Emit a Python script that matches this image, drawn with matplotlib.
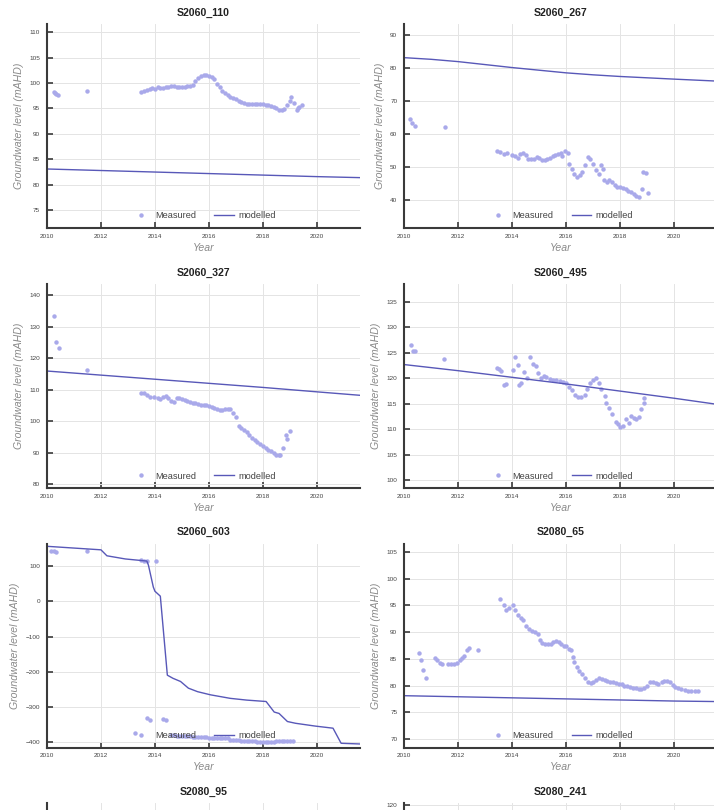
import numpy as np
import matplotlib
matplotlib.use("Agg")
import matplotlib.pyplot as plt

plt.rcParams["font.family"] = ["Liberation Sans", "DejaVu Sans"]

# ---- S2060_110 ----
s110_meas_year = [2010.25, 2010.3, 2010.35, 2010.4, 2011.5,
                  2013.5, 2013.6, 2013.7, 2013.8, 2013.9, 2014.0, 2014.1, 2014.2, 2014.3, 2014.4,
                  2014.5, 2014.6, 2014.7, 2014.8, 2014.9, 2015.0, 2015.1, 2015.2, 2015.3, 2015.4,
                  2015.5, 2015.6, 2015.7, 2015.8, 2015.9, 2016.0, 2016.1, 2016.2, 2016.3, 2016.4,
                  2016.5, 2016.6, 2016.7, 2016.8, 2016.9, 2017.0, 2017.1, 2017.2, 2017.3, 2017.4,
                  2017.5, 2017.6, 2017.7, 2017.8, 2017.9, 2018.0, 2018.1, 2018.2, 2018.3, 2018.4,
                  2018.5, 2018.6, 2018.7, 2018.8, 2018.9, 2019.0, 2019.05, 2019.15, 2019.25, 2019.3,
                  2019.35, 2019.45]
s110_meas_level = [98.3, 98.0, 97.8, 97.6, 98.4,
                   98.3, 98.5, 98.6, 98.8, 99.0, 98.8, 99.2, 99.1, 99.0, 99.2,
                   99.3, 99.5, 99.4, 99.2, 99.3, 99.3, 99.2, 99.4, 99.5, 99.7,
                   100.3, 100.9, 101.4, 101.6, 101.6, 101.4, 101.2, 100.8, 99.9, 99.2,
                   98.5, 98.0, 97.6, 97.3, 97.0, 96.8, 96.5, 96.2, 96.0, 95.8,
                   95.8, 95.9, 95.9, 95.9, 95.9, 95.8, 95.7, 95.6, 95.4, 95.3,
                   95.0, 94.7, 94.7, 94.9, 95.6, 96.5, 97.3, 96.0, 94.6, 95.0,
                   95.3, 95.6]
s110_model_year = [2010, 2012, 2014, 2016, 2018, 2020, 2021.6]
s110_model_level = [83.1, 82.8, 82.5, 82.2, 81.9, 81.6, 81.4]

# ---- S2060_267 ----
s267_meas_year = [2010.2, 2010.3, 2010.4, 2011.5,
                  2013.45, 2013.55, 2013.7, 2013.8, 2014.0, 2014.1, 2014.2, 2014.3, 2014.4, 2014.5,
                  2014.6, 2014.7, 2014.8, 2014.9, 2015.0, 2015.1, 2015.2, 2015.3, 2015.4, 2015.5,
                  2015.6, 2015.7, 2015.8, 2015.85, 2015.95, 2016.05, 2016.1, 2016.2, 2016.3, 2016.4,
                  2016.5, 2016.6, 2016.7, 2016.8, 2016.9, 2017.0, 2017.1, 2017.2, 2017.3, 2017.35,
                  2017.4, 2017.5, 2017.6, 2017.7, 2017.8, 2017.9, 2018.0, 2018.1, 2018.2, 2018.3,
                  2018.4, 2018.5, 2018.6, 2018.7, 2018.8, 2018.85, 2018.95, 2019.05]
s267_meas_level = [64.5, 63.2, 62.3, 62.1,
                   54.7, 54.6, 53.9, 54.2, 53.6, 53.2, 52.8, 53.8, 54.3, 53.5,
                   52.4, 52.3, 52.5, 53.0, 52.6, 52.2, 52.0, 52.3, 52.6, 53.2,
                   53.5, 53.9, 54.3, 53.4, 54.8, 54.2, 51.0, 49.5, 48.0, 47.0,
                   47.5, 48.5, 50.5, 53.0, 52.5, 51.0, 49.0, 48.0, 50.5, 49.3,
                   46.0, 45.5, 46.0, 45.5, 44.5, 44.0, 43.8, 43.6, 43.3, 42.8,
                   42.4, 41.8, 41.2, 41.0, 43.2, 48.6, 48.2, 42.2]
s267_model_year = [2010, 2011, 2012, 2013, 2014, 2015, 2016, 2017, 2018, 2019, 2020, 2021.6]
s267_model_level = [83.1, 82.6, 81.9, 81.0, 80.1, 79.3, 78.5, 77.9, 77.4, 77.0, 76.6, 76.0]

# ---- S2060_327 ----
s327_meas_year = [2010.27, 2010.34, 2010.45, 2011.5,
                  2013.5, 2013.6, 2013.7, 2013.8, 2013.95, 2014.1, 2014.2, 2014.3, 2014.4, 2014.5,
                  2014.6, 2014.7, 2014.8, 2014.9, 2015.0, 2015.1, 2015.2, 2015.3, 2015.4, 2015.5,
                  2015.6, 2015.7, 2015.8, 2015.9, 2016.0, 2016.1, 2016.2, 2016.3, 2016.4, 2016.5,
                  2016.6, 2016.7, 2016.8, 2016.9, 2017.0, 2017.1, 2017.2, 2017.3, 2017.4, 2017.5,
                  2017.6, 2017.7, 2017.8, 2017.9, 2018.0, 2018.1, 2018.2, 2018.3, 2018.4, 2018.5,
                  2018.6, 2018.65, 2018.75, 2018.85, 2018.9, 2019.0]
s327_meas_level = [133.4, 125.1, 123.2, 116.2,
                   108.8, 109.0, 108.2, 107.8, 107.8, 107.5, 107.0, 107.6, 108.0, 107.2,
                   106.3, 106.0, 107.3, 107.2, 106.9, 106.6, 106.4, 106.1, 105.9, 105.8,
                   105.4, 105.2, 105.2, 105.0, 104.9, 104.6, 104.2, 103.8, 103.5, 103.5,
                   103.8, 104.0, 103.9, 102.5, 101.2, 98.5, 97.8, 97.2, 96.5, 95.5,
                   94.6, 94.0, 93.3, 92.7, 92.2, 91.6, 91.0, 90.4, 89.8, 89.4,
                   89.2, 89.3, 91.4, 95.6, 94.2, 96.8]
s327_model_year = [2010, 2012, 2014, 2016, 2018, 2020, 2021.6]
s327_model_level = [115.9, 114.6, 113.3, 112.0, 110.7, 109.3, 108.2]

# ---- S2060_495 ----
s495_meas_year = [2010.23, 2010.33, 2010.4, 2011.46,
                  2013.44, 2013.52, 2013.6, 2013.7, 2013.78, 2014.02, 2014.1, 2014.2, 2014.25, 2014.33,
                  2014.45, 2014.54, 2014.66, 2014.78, 2014.87, 2014.96, 2015.05, 2015.17, 2015.27, 2015.4,
                  2015.52, 2015.64, 2015.76, 2015.9, 2016.0, 2016.12, 2016.22, 2016.34, 2016.44, 2016.56,
                  2016.68, 2016.76, 2016.88, 2017.0, 2017.12, 2017.22, 2017.28, 2017.43, 2017.49, 2017.6,
                  2017.7, 2017.83, 2017.92, 2018.0, 2018.1, 2018.22, 2018.32, 2018.41, 2018.5, 2018.59,
                  2018.68, 2018.77, 2018.87, 2018.9]
s495_meas_level = [126.5, 125.3, 125.4, 123.7,
                   122.1, 121.9, 121.5, 118.7, 118.9, 121.6, 124.1, 122.6, 118.7, 119.0,
                   121.2, 120.0, 124.1, 122.9, 122.4, 121.0, 120.0, 120.5, 120.2, 119.8,
                   119.6, 119.7, 119.5, 119.3, 119.0, 118.4, 117.8, 116.7, 116.3, 116.4,
                   116.7, 118.0, 119.0, 119.7, 120.0, 119.0, 118.0, 116.5, 115.1, 114.1,
                   113.1, 111.5, 111.0, 110.5, 110.6, 112.0, 111.2, 112.6, 112.2, 112.0,
                   112.5, 113.9, 115.1, 116.1]
s495_model_year = [2010, 2012, 2014, 2016, 2018, 2020, 2021.6]
s495_model_level = [122.7, 121.5, 120.2, 118.9, 117.5, 116.1, 114.9]

# ---- S2060_603 ----
s603_meas_year = [2010.15, 2010.25, 2010.35, 2011.5, 2013.27,
                  2013.5, 2013.6, 2013.7, 2013.72, 2013.82, 2014.05, 2014.3, 2014.4,
                  2014.6, 2014.7, 2014.8, 2014.9, 2015.0, 2015.1, 2015.2, 2015.3, 2015.4, 2015.5,
                  2015.6, 2015.7, 2015.8, 2015.9, 2016.0, 2016.1, 2016.2, 2016.3, 2016.4, 2016.5,
                  2016.6, 2016.7, 2016.8, 2016.9, 2017.0, 2017.1, 2017.2, 2017.3, 2017.4, 2017.5,
                  2017.6, 2017.7, 2017.8, 2017.9, 2018.0, 2018.1, 2018.2, 2018.3, 2018.4, 2018.5,
                  2018.6, 2018.7, 2018.8, 2018.9, 2019.0, 2019.1]
s603_meas_level = [145, 143, 142, 144, -375,
                   117, 115, 114, -333, -338, 114, -335, -338,
                   -381, -381, -382, -382, -383, -383, -384, -384, -385, -385,
                   -386, -386, -387, -387, -388, -388, -388, -388, -388, -389,
                   -389, -390, -394, -395, -396, -396, -397, -397, -398, -398,
                   -398, -398, -399, -399, -399, -399, -399, -399, -399, -398,
                   -398, -398, -398, -397, -397, -397]
s603_model_year = [2010, 2012, 2012.22, 2012.9, 2013.7, 2013.76, 2013.94, 2014.0, 2014.2,
                   2014.46, 2014.67, 2014.95, 2015.24, 2015.58, 2016.06, 2016.79, 2017.4,
                   2018.12, 2018.42, 2018.6, 2018.91, 2019.21, 2019.94, 2020.6, 2020.9, 2021.6]
s603_model_level = [157, 147, 130, 121, 115, 103, 41, 29, 15,
                    -210, -219, -228, -247, -257, -266, -276, -281,
                    -285, -315, -319, -342, -347, -355, -361, -404, -406]

# ---- S2080_65 ----
s65_meas_year = [2010.55, 2010.63, 2010.71, 2010.8,
                 2011.12, 2011.22, 2011.32, 2011.41, 2011.63, 2011.73, 2011.85, 2011.95, 2012.05, 2012.15,
                 2012.22, 2012.32, 2012.4, 2012.73,
                 2013.54, 2013.68, 2013.78, 2013.89, 2014.02, 2014.12, 2014.22, 2014.32, 2014.41, 2014.51,
                 2014.62, 2014.72, 2014.84, 2014.94, 2015.02, 2015.12, 2015.22, 2015.33, 2015.43, 2015.51,
                 2015.61, 2015.72, 2015.82, 2015.91, 2016.01, 2016.1, 2016.18, 2016.24, 2016.3, 2016.4,
                 2016.49, 2016.59, 2016.7, 2016.8, 2016.91, 2017.01, 2017.11, 2017.22, 2017.32, 2017.43,
                 2017.52, 2017.63, 2017.73, 2017.83, 2017.95, 2018.05, 2018.16, 2018.26, 2018.37, 2018.48,
                 2018.59, 2018.68, 2018.79, 2018.9, 2019.0, 2019.11, 2019.22, 2019.32, 2019.41, 2019.54,
                 2019.63, 2019.73, 2019.84, 2019.94, 2020.05, 2020.15, 2020.27, 2020.39, 2020.51, 2020.63,
                 2020.76, 2020.88]
s65_meas_level = [86.1, 84.8, 82.9, 81.5,
                  85.1, 84.7, 84.3, 84.1, 84.1, 84.1, 84.1, 84.3, 84.7, 85.2,
                  85.6, 86.6, 87.1, 86.6,
                  96.2, 95.1, 94.2, 94.6, 95.1, 94.2, 93.3, 92.7, 92.2, 91.2,
                  90.5, 90.3, 90.0, 89.6, 88.6, 87.9, 87.7, 87.7, 87.8, 88.1,
                  88.4, 88.2, 87.7, 87.5, 87.4, 86.9, 86.6, 85.3, 84.5, 83.4,
                  82.7, 82.1, 81.4, 80.7, 80.4, 80.7, 81.1, 81.4, 81.3, 81.1,
                  80.9, 80.7, 80.6, 80.4, 80.3, 80.2, 80.0, 79.9, 79.8, 79.6,
                  79.5, 79.4, 79.4, 79.5, 79.9, 80.6, 80.7, 80.4, 80.3, 80.7,
                  80.9, 80.9, 80.6, 80.1, 79.8, 79.5, 79.3, 79.1, 79.0, 78.9,
                  79.0, 79.0]
s65_model_year = [2010, 2012, 2014, 2016, 2018, 2020, 2021.6]
s65_model_level = [78.1, 77.9, 77.7, 77.5, 77.3, 77.1, 77.0]

titles = ["S2060_110", "S2060_267", "S2060_327", "S2060_495", "S2060_603", "S2080_65",
          "S2080_95", "S2080_241"]
ylims = [(71.5, 111.6), (31.5, 93.3), (78.8, 143.5), (98.5, 138.5), (-416, 165), (68.4, 106.6),
         (60, 108), (95.3, 120.3)]
ysteps = [5, 10, 10, 5, 100, 5, 10, 5]
# bottom row: only the top strip is inside the image
partial_yticks = {6: [], 7: [120]}

panels = [
    (s110_meas_year, s110_meas_level, s110_model_year, s110_model_level),
    (s267_meas_year, s267_meas_level, s267_model_year, s267_model_level),
    (s327_meas_year, s327_meas_level, s327_model_year, s327_model_level),
    (s495_meas_year, s495_meas_level, s495_model_year, s495_model_level),
    (s603_meas_year, s603_meas_level, s603_model_year, s603_model_level),
    (s65_meas_year, s65_meas_level, s65_model_year, s65_model_level),
    None,
    None,
]

meas_color = "#a9a9ea"
model_color = "#5858b8"
spine_color = "#3a3a3a"
text_grey = "#8a8a8a"

W, H = 714, 810
fig = plt.figure(figsize=(W / 100, H / 100), dpi=100)

col_left = [47, 404.3]
col_width = [313, 313]
row_top = [24, 284, 543.5, 803]
ax_h = 204

for i, title in enumerate(titles):
    r, c = divmod(i, 2)
    left = col_left[c] / W
    bottom = 1 - (row_top[r] + ax_h) / H
    ax = fig.add_axes([left, bottom, col_width[c] / W, ax_h / H])

    data = panels[i]
    if data is not None:
        my, ml, oy, ol = data
        ax.plot(my, ml, "o", ms=3.2, mec="none", color=meas_color, label="Measured")
        ax.plot(oy, ol, "-", lw=1.0, color=model_color, label="modelled")
        ax.legend(loc="center", bbox_to_anchor=(0.5, 12 / ax_h), ncol=2, frameon=False,
                  fontsize=6.6, numpoints=1, handlelength=2.1, handletextpad=0.5,
                  columnspacing=2.0, labelcolor="#444444")

    ax.set_xlim(2010, 2021.6)
    ax.set_ylim(*ylims[i])
    ax.set_xticks(np.arange(2010, 2021, 2))
    lo, hi = ylims[i]
    st = ysteps[i]
    if i in partial_yticks:
        ax.set_yticks(partial_yticks[i])
    else:
        ax.set_yticks(np.arange(np.ceil(lo / st) * st, hi + 0.01, st))
    ax.grid(True, color="#e4e4e4", lw=0.7)
    ax.set_axisbelow(True)
    for s in ["top", "right"]:
        ax.spines[s].set_visible(False)
    for s in ["left", "bottom"]:
        ax.spines[s].set_color(spine_color)
        ax.spines[s].set_linewidth(1.5)
    ax.tick_params(direction="in", length=4.5, width=1.2, color=spine_color,
                   labelsize=4.6, labelcolor="#444444")
    ax.tick_params(axis="x", pad=4)
    ax.tick_params(axis="y", pad=5)
    ax.set_title(title, fontsize=7.6, fontweight="bold", pad=6, color="#222222")
    if data is not None:
        ax.set_xlabel("Year", fontsize=7.6, style="italic", color=text_grey, labelpad=3)
        ax.set_ylabel("Groundwater level (mAHD)", fontsize=7.6, style="italic",
                      color=text_grey, labelpad=4)
    else:
        ax.tick_params(axis="x", labelbottom=False)

fig.savefig("out.png", dpi=100)
